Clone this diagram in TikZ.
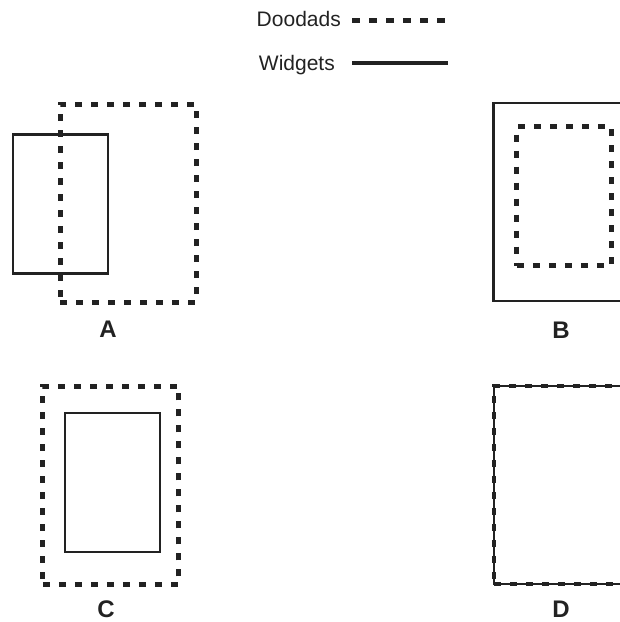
\documentclass[tikz,border=0pt]{standalone}
\usepackage{fontspec}
\setmainfont{Liberation Sans}
\usepackage{xcolor}
\usepackage{tikz}

\definecolor{ink}{HTML}{222222}

\tikzset{
    widget/.style={rectangle, draw=ink, line width=2.2pt, inner sep=0pt, outer sep=0pt},
    doodad/.style={rectangle, draw=ink, line width=5pt, dash pattern=on 7pt off 9pt, inner sep=0pt, outer sep=0pt},
    bigbox/.style={minimum width=136pt, minimum height=198pt},
    smallbox/.style={minimum width=94.5pt, minimum height=139pt},
    legendtext/.style={font=\fontsize{21}{25}\selectfont, text=ink, inner sep=0pt},
    panellabel/.style={font=\fontsize{24}{28}\selectfont\bfseries, text=ink, inner sep=0pt, anchor=base}
}

\begin{document}
\begin{tikzpicture}[x=1pt, y=-1pt]
\clip (0,0) rectangle (620,622);

% Legend
\node[legendtext, anchor=base east] (doodads) at (341,26) {Doodads};
\node[legendtext, anchor=base east] (widgets) at (335,70) {Widgets};
\coordinate (doodads-start) at (352,20);
\coordinate (doodads-end) at (445,20);
\coordinate (widgets-start) at (352,62.5);
\coordinate (widgets-end) at (447.5,62.5);
\draw[draw=ink, line width=5pt, dash pattern=on 7.5pt off 9.5pt] (doodads-start) -- (doodads-end);
\draw[draw=ink, line width=4pt] (widgets-start) -- (widgets-end);

% A: overlapping
\node[widget, smallbox] (widget-A) at (60.5,204) {};
\node[doodad, bigbox] (doodad-A) at (128,203) {};

% B: doodad inside widget
\node[widget, bigbox] (widget-B) at (561.5,201.7) {};
\node[doodad, smallbox] (doodad-B) at (564,196) {};

% C: widget inside doodad
\node[doodad, bigbox] (doodad-C) at (110.8,485.3) {};
\node[widget, smallbox] (widget-C) at (112.5,482.2) {};

% D: same box
\node[widget, bigbox] (widget-D) at (562,485) {};
\node[doodad, bigbox, line width=4.5pt] (doodad-D) at (562,485) {};

% Panel labels
\foreach \name/\x/\y in {A/108/337, B/561/338, C/106/617.5, D/561/617.5}
{
    \node[panellabel] (label-\name) at (\x,\y) {\name};
}

\end{tikzpicture}
\end{document}
